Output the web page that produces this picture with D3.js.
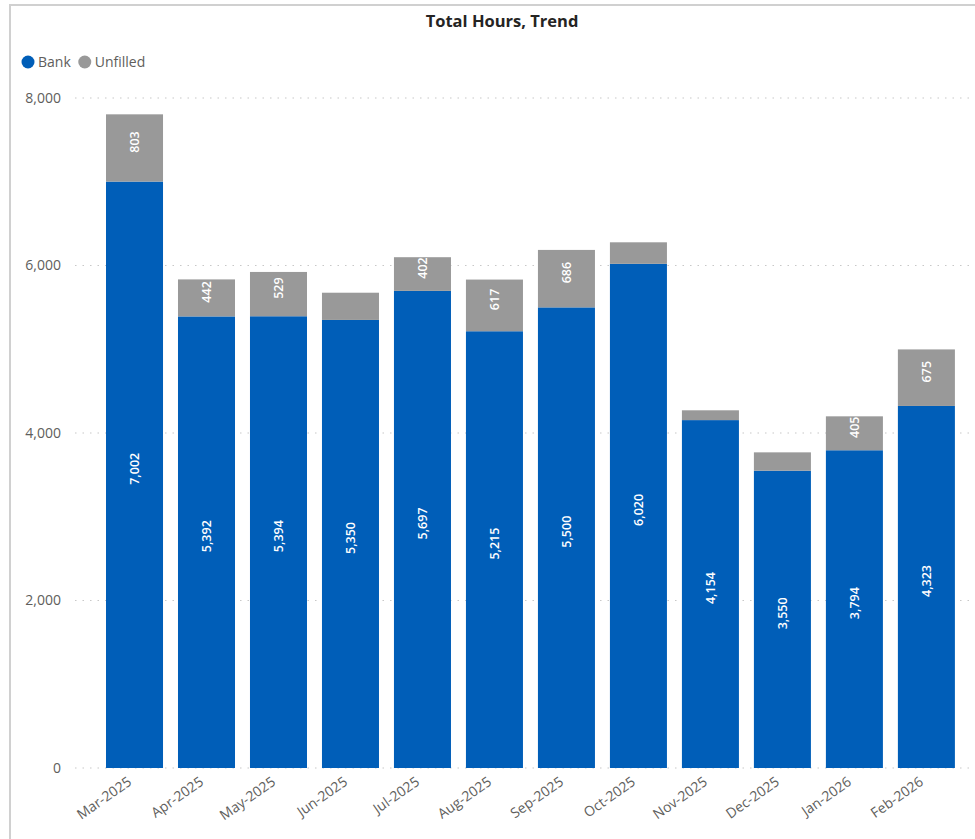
<!DOCTYPE html>
<html>
<head>
<meta charset="utf-8">
<script src="https://cdn.jsdelivr.net/npm/d3@7/dist/d3.min.js"></script>
<style>
  html, body { margin: 0; padding: 0; background: #fff; }
  svg { display: block; font-family: "Open Sans", "Noto Sans", sans-serif; }
</style>
</head>
<body>
<svg id="chart" width="975" height="839"></svg>
<script>
// Monthly total hours, split into bank-filled and unfilled
const months = ["Mar-2025", "Apr-2025", "May-2025", "Jun-2025", "Jul-2025", "Aug-2025",
                "Sep-2025", "Oct-2025", "Nov-2025", "Dec-2025", "Jan-2026", "Feb-2026"];
const bank = [7002, 5392, 5394, 5350, 5697, 5215, 5500, 6020, 4154, 3550, 3794, 4323];
const unfilled = [803, 442, 529, 325, 402, 617, 686, 257, 117, 219, 405, 675];
const yTicks = [0, 2000, 4000, 6000, 8000];
const seriesNames = ["Bank", "Unfilled"];
const seriesColors = ["#005EB8", "#999999"];

const svg = d3.select("#chart");

// Visual frame
svg.append("rect")
  .attr("x", 10).attr("y", 5)
  .attr("width", 990).attr("height", 860)
  .attr("fill", "none")
  .attr("stroke", "#d0d0d0")
  .attr("stroke-width", 2);

const x = d3.scaleBand()
  .domain(months)
  .range([91.6, 969.3])
  .paddingInner(0.208)
  .paddingOuter(0.2);

const y = d3.scaleLinear()
  .domain([0, 8000])
  .range([768, 98]);

// Title
svg.append("text")
  .attr("x", 502).attr("y", 27)
  .attr("text-anchor", "middle")
  .attr("font-size", 16.5)
  .attr("font-weight", 700)
  .attr("fill", "#252423")
  .text("Total Hours, Trend");

// Legend
const legend = svg.append("g");
let lx = 28;
seriesNames.forEach((name, i) => {
  legend.append("circle")
    .attr("cx", lx).attr("cy", 62).attr("r", 6.5)
    .attr("fill", seriesColors[i]);
  const t = legend.append("text")
    .attr("x", lx + 10).attr("y", 67)
    .attr("font-size", 14)
    .attr("fill", "#605E5C")
    .text(name);
  lx += 10 + t.node().getComputedTextLength() + 14;
});

// Y axis with dotted gridlines
const yAxis = d3.axisLeft(y)
  .tickValues(yTicks)
  .tickFormat(d3.format(","))
  .tickSize(0)
  .tickPadding(0);

const yG = svg.append("g")
  .attr("transform", "translate(61,0)")
  .call(yAxis);
yG.select(".domain").remove();
yG.selectAll("text")
  .attr("font-size", 14)
  .attr("fill", "#605E5C")
  .attr("font-family", "'Open Sans', sans-serif");

svg.append("g")
  .selectAll("line")
  .data(yTicks)
  .join("line")
  .attr("x1", 75).attr("x2", 975)
  .attr("y1", d => y(d)).attr("y2", d => y(d))
  .attr("stroke", "#c8c8c8")
  .attr("stroke-width", 1.2)
  .attr("stroke-dasharray", "1.5,6");

// Stacked bars
const rows = months.map((m, i) => ({ month: m, Bank: bank[i], Unfilled: unfilled[i] }));
const stacked = d3.stack().keys(seriesNames)(rows);

const layers = svg.append("g")
  .selectAll("g")
  .data(stacked)
  .join("g")
  .attr("fill", (d, i) => seriesColors[i]);

layers.selectAll("rect")
  .data(d => d)
  .join("rect")
  .attr("x", d => x(d.data.month))
  .attr("width", x.bandwidth())
  .attr("y", d => y(d[1]))
  .attr("height", d => y(d[0]) - y(d[1]));

// Value labels, rotated inside each segment (only where the segment is tall enough)
const fmt = d3.format(",");
const labels = svg.append("g");
stacked.forEach(layer => {
  layer.forEach(d => {
    const v = d[1] - d[0];
    const h = y(d[0]) - y(d[1]);
    if (h < 30) return;
    const cx = x(d.data.month) + x.bandwidth() / 2;
    const cy = (y(d[0]) + y(d[1])) / 2 - 6;
    labels.append("text")
      .attr("transform", `translate(${cx + 4.5},${cy}) rotate(-90)`)
      .attr("text-anchor", "middle")
      .attr("font-size", 12.5)
      .attr("font-weight", 600)
      .attr("font-family", "'Open Sans', sans-serif")
      .attr("fill", "#ffffff")
      .text(fmt(v));
  });
});

// X axis labels, slanted
const xAxis = d3.axisBottom(x).tickSize(0).tickPadding(0);
const xG = svg.append("g")
  .attr("transform", "translate(0,768)")
  .call(xAxis);
xG.select(".domain").remove();
xG.selectAll("text")
  .attr("font-size", 14)
  .attr("fill", "#605E5C")
  .attr("font-family", "'Open Sans', sans-serif")
  .attr("text-anchor", "end")
  .attr("dy", 0)
  .attr("transform", "translate(-2,16) rotate(-35)");
</script>
</body>
</html>
